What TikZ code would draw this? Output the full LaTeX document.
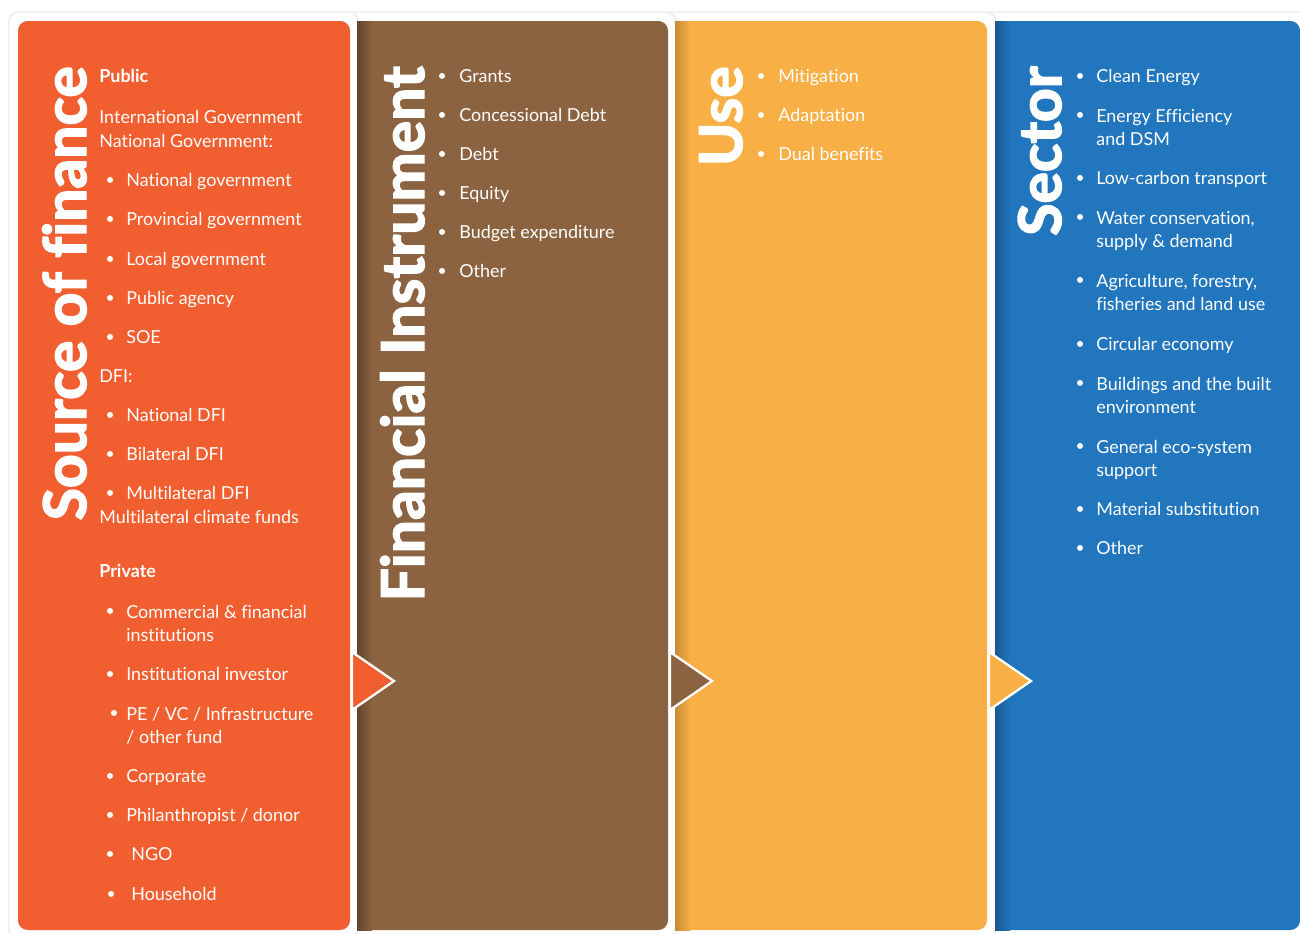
\documentclass[tikz,border=0pt]{standalone}
\usepackage{fontspec}
\setmainfont[Ligatures=NoCommon]{Lato}
\newfontfamily\headfont[Ligatures=NoCommon, BoldFeatures={FakeBold=2.5}]{Lato}
\usetikzlibrary{positioning}

\definecolor{sourceorange}{RGB}{241,95,48}
\definecolor{instrbrown}{RGB}{139,99,64}
\definecolor{useyellow}{RGB}{248,175,69}
\definecolor{sectorblue}{RGB}{33,118,189}

\newcommand{\bodytext}{\fontsize{10.2}{13.6}\selectfont}
\newcommand{\headtext}{\headfont\fontsize{33.5}{36}\selectfont\bfseries}

\tikzset{
  panel/.style={rounded corners=5.5pt},
  heading/.style={rotate=90, anchor=base east, inner sep=0pt, text=white, font=\headtext},
  entry/.style={anchor=base west, inner sep=0pt, text=white, font=\bodytext, align=left},
  boldentry/.style={entry, font=\bodytext\bfseries},
  pointer/.style={draw=white, line width=1.3pt}
}

\begin{document}
\begin{tikzpicture}[x=0.02cm, y=-0.02cm]
  \useasboundingbox (0,0) rectangle (1300,933);
  \clip (0,0) rectangle (1300,933);

  % panels, drawn from right to left so each one sits over the next
  \fill[black!5, panel] (950,11) rectangle (1310,940);
  \fill[white, panel] (952,13) rectangle (1308,938);
  \fill[sectorblue, panel] (960,21) rectangle (1300,930);

  \fill[black!5, panel] (630,11) rectangle (997,940);
  \fill[white, panel] (632,13) rectangle (995,938);
  \fill[useyellow, panel] (640,21) rectangle (987,930);

  \fill[black!5, panel] (320,11) rectangle (677,940);
  \fill[white, panel] (322,13) rectangle (675,938);
  \fill[instrbrown, panel] (330,21) rectangle (668,930);

  \fill[black!5, panel] (8,11) rectangle (359,940);
  \fill[white, panel] (10,13) rectangle (357,938);
  \fill[sourceorange, panel] (18,21) rectangle (350,930);

  % soft shadow left of each covered panel
  \shade[left color=instrbrown!70!black, right color=instrbrown] (357,21) rectangle (372,930);
  \shade[left color=useyellow!80!black, right color=useyellow] (675,21) rectangle (690,930);
  \shade[left color=sectorblue!75!black, right color=sectorblue] (995,21) rectangle (1010,930);

  % column headings
  \node[heading] (sourcehead) at (86,66) {Source of finance};
  \node[heading] (instrhead) at (424,66) {Financial Instrument};
  \node[heading] (usehead) at (742,66) {Use};
  \node[heading] (sectorhead) at (1061,66) {Sector};

  \begin{scope}[yshift=-1.1pt]
  % source of finance (two-line entries sit on their last baseline)
  \node[boldentry] (public) at (99,81) {Public};
  \node[entry] (intlgov) at (99,122) {International Government};
  \node[entry] (natgovhead) at (99,146) {National Government:};
  \node[entry] (natgov) at (126,185) {National government};
  \node[entry] (provgov) at (126,224) {Provincial government};
  \node[entry] (localgov) at (126,264) {Local government};
  \node[entry] (pubagency) at (126,303) {Public agency};
  \node[entry] (soe) at (126,342) {SOE};
  \node[entry] (dfihead) at (99,381) {DFI:};
  \node[entry] (natdfi) at (126,420) {National DFI};
  \node[entry] (bidfi) at (126,459) {Bilateral DFI};
  \node[entry] (multidfi) at (126,498) {Multilateral DFI};
  \node[entry] (climfunds) at (99,522) {Multilateral climate funds};
  \node[boldentry] (private) at (99,576) {Private};
  \node[entry] (commercial) at (126,640) {Commercial \& financial\\institutions};
  \node[entry] (institutional) at (126,679) {Institutional investor};
  \node[entry] (pevc) at (126,742) {PE / VC / Infrastructure\\/ other fund};
  \node[entry] (corporate) at (126,781) {Corporate};
  \node[entry] (donor) at (126,820) {Philanthropist / donor};
  \node[entry] (ngo) at (131,859) {NGO};
  \node[entry] (household) at (131,899) {Household};
  \foreach \y in {178,217,257,296,335,413,452,491,609,672,774,813,852}
    \fill[white] (110,\y) circle (3);
  \fill[white] (114,711) circle (3);
  \fill[white] (111,892) circle (3);

  % financial instrument
  \foreach \txt/\nm [count=\i from 0] in {Grants/grants, Concessional Debt/concdebt, Debt/debt,
      Equity/equity, Budget expenditure/budget, Other/instrother} {
    \node[entry] (\nm) at (459,81+39*\i) {\txt};
    \fill[white] (442,74+39*\i) circle (3);
  }

  % use
  \foreach \txt/\nm [count=\i from 0] in {Mitigation/mitigation, Adaptation/adaptation,
      Dual benefits/dual} {
    \node[entry] (\nm) at (778,81+39*\i) {\txt};
    \fill[white] (761,74+39*\i) circle (3);
  }

  % sector
  \node[entry] (clean) at (1096,81) {Clean Energy};
  \node[entry] (efficiency) at (1096,144) {Energy Efficiency\\and DSM};
  \node[entry] (transport) at (1096,183) {Low-carbon transport};
  \node[entry] (water) at (1096,246) {Water conservation,\\supply \& demand};
  \node[entry] (agri) at (1096,309) {Agriculture, forestry,\\fisheries and land use};
  \node[entry] (circular) at (1096,349) {Circular economy};
  \node[entry] (buildings) at (1096,412) {Buildings and the built\\environment};
  \node[entry] (ecosystem) at (1096,475) {General eco-system\\support};
  \node[entry] (material) at (1096,514) {Material substitution};
  \node[entry] (sectorother) at (1096,553) {Other};
  \foreach \y in {74,113,176,215,278,342,381,444,507,546}
    \fill[white] (1080,\y) circle (3);
  \end{scope}

  % pointers between columns
  \draw[pointer, fill=sourceorange] (352,652) -- (394,681) -- (352,710) -- cycle;
  \draw[pointer, fill=instrbrown] (670,652) -- (712,681) -- (670,710) -- cycle;
  \draw[pointer, fill=useyellow] (989,652) -- (1031,681) -- (989,710) -- cycle;
\end{tikzpicture}
\end{document}
